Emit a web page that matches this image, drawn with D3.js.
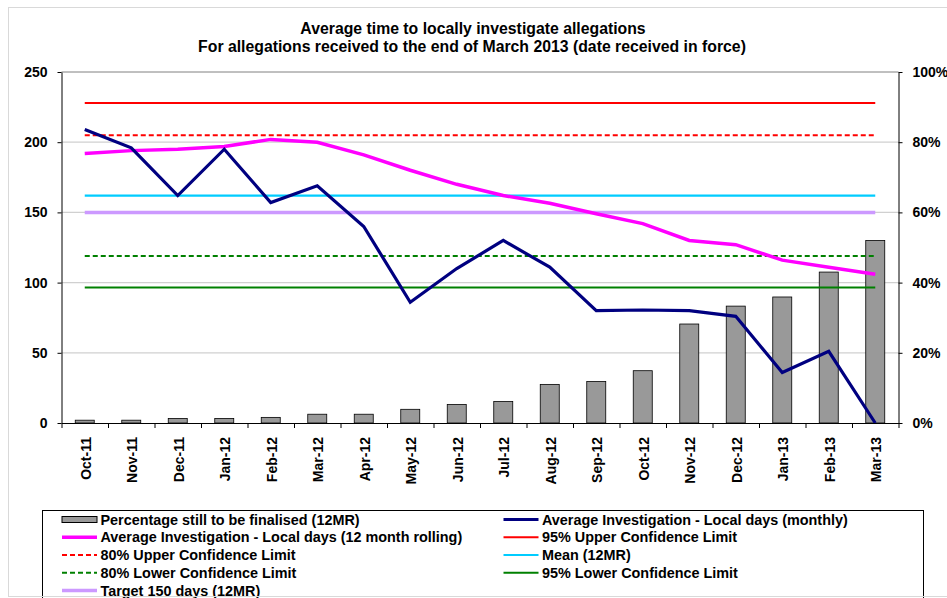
<!DOCTYPE html>
<html>
<head>
<meta charset="utf-8">
<script src="https://cdn.jsdelivr.net/npm/d3@7"></script>
<style>
    body { margin: 0; background: #fff; }
    text { font-family: "Liberation Sans", Arial, sans-serif; font-weight: bold; fill: #000; }
</style>
</head>
<body>
<div id="chart"></div>
<script>

// months on the x axis
var months = ["Oct-11", "Nov-11", "Dec-11", "Jan-12", "Feb-12", "Mar-12", "Apr-12", "May-12", "Jun-12",
    "Jul-12", "Aug-12", "Sep-12", "Oct-12", "Nov-12", "Dec-12", "Jan-13", "Feb-13", "Mar-13"];

// percentage still to be finalised (right axis)
var pctOpen = [0.8, 0.8, 1.3, 1.3, 1.6, 2.5, 2.5, 3.9, 5.3, 6.1, 11.0, 11.8, 14.9, 28.2, 33.3, 35.9, 43.0, 52.0];

// days (left axis)
var avgMonthly = [209, 196, 162, 195, 157, 169, 140, 86, 110, 130, 111, 80, 80.5, 80, 76, 36, 51, 0];
var avgRolling = [192, 194, 195, 197, 202, 200, 191, 180, 170, 162, 156.5, 149, 142, 130, 127, 116, 111, 106];

// flat limits
var ucl95 = 228, ucl80 = 205, meanDays = 162, target = 150, lcl80 = 119, lcl95 = 96.5;

var leftTicks = [0, 50, 100, 150, 200, 250];
var rightTicks = [0, 20, 40, 60, 80, 100];

var W = 947, H = 598;
var plot = { left: 61.5, right: 898.5, top: 72, bottom: 423 };

var svg = d3.select("#chart").append("svg")
    .attr("width", W)
    .attr("height", H);

// outer frame
svg.append("rect")
    .attr("x", 8.5).attr("y", 7.5)
    .attr("width", 1000).attr("height", 589)
    .attr("fill", "#fff")
    .attr("stroke", "#d9d9d9");

// title
svg.append("text").attr("x", 473).attr("y", 34)
    .attr("text-anchor", "middle").style("font-size", "15.8px")
    .text("Average time to locally investigate allegations");
svg.append("text").attr("x", 472).attr("y", 52)
    .attr("text-anchor", "middle").style("font-size", "15.8px")
    .text("For allegations received to the end of March 2013 (date received in force)");

// scales
var x = d3.scaleBand().domain(months).range([plot.left, plot.right]);
var xEdge = d3.scaleLinear().domain([0, months.length]).range([plot.left, plot.right]);
var y = d3.scaleLinear().domain([0, 250]).range([plot.bottom, plot.top]);
var yPct = d3.scaleLinear().domain([0, 100]).range([plot.bottom, plot.top]);
var cx = d => x(d) + x.bandwidth() / 2;

// gridlines
svg.append("g")
    .selectAll("line")
    .data([50, 100, 150, 200])
    .join("line")
    .attr("x1", plot.left).attr("x2", plot.right)
    .attr("y1", d => y(d)).attr("y2", d => y(d))
    .attr("stroke", "#d0d0d0").attr("stroke-width", 1.3);

svg.append("line")
    .attr("x1", plot.left).attr("x2", plot.right)
    .attr("y1", y(250)).attr("y2", y(250))
    .attr("stroke", "#808080");

// bars
var barW = 19;
svg.append("g")
    .selectAll("rect")
    .data(pctOpen)
    .join("rect")
    .attr("x", (d, i) => cx(months[i]) - barW / 2)
    .attr("y", d => yPct(d))
    .attr("width", barW)
    .attr("height", d => plot.bottom - yPct(d))
    .attr("fill", "#999999")
    .attr("stroke", "#000")
    .attr("stroke-width", 0.8);

// flat reference lines
var refLines = [
    { v: ucl95, color: "#ff0000", w: 2, dash: null },
    { v: ucl80, color: "#ff0000", w: 2, dash: "5,3" },
    { v: meanDays, color: "#00ccff", w: 2.2, dash: null },
    { v: target, color: "#cc99ff", w: 3.5, dash: null },
    { v: lcl80, color: "#008000", w: 2, dash: "5,3" },
    { v: lcl95, color: "#008000", w: 2, dash: null }
];
svg.append("g")
    .selectAll("line")
    .data(refLines)
    .join("line")
    .attr("x1", cx(months[0]))
    .attr("x2", cx(months[months.length - 1]))
    .attr("y1", d => y(d.v)).attr("y2", d => y(d.v))
    .attr("stroke", d => d.color)
    .attr("stroke-width", d => d.w)
    .attr("stroke-dasharray", d => d.dash);

var line = d3.line()
    .x((d, i) => cx(months[i]))
    .y(d => y(d));

svg.append("path")
    .attr("d", line(avgRolling))
    .attr("fill", "none")
    .attr("stroke", "#ff00ff")
    .attr("stroke-width", 3.5);

svg.append("path")
    .attr("d", line(avgMonthly))
    .attr("fill", "none")
    .attr("stroke", "#000080")
    .attr("stroke-width", 3.2);

// axes
var axisFont = "14px";

var gl = svg.append("g")
    .attr("transform", "translate(" + plot.left + ",0)")
    .call(d3.axisLeft(y).tickValues(leftTicks).tickSize(4).tickSizeOuter(0).tickPadding(10));
gl.selectAll("text").style("font-size", axisFont).attr("font-family", null);

var gr = svg.append("g")
    .attr("transform", "translate(" + plot.right + ",0)")
    .call(d3.axisRight(yPct).tickValues(rightTicks).tickFormat(d => d + "%").tickSize(4).tickSizeOuter(0).tickPadding(10));
gr.selectAll("text").style("font-size", axisFont).attr("font-family", null);

svg.append("g")
    .attr("transform", "translate(0," + plot.bottom + ")")
    .call(d3.axisBottom(xEdge).ticks(months.length).tickFormat("").tickSize(5).tickSizeOuter(0));

var gb = svg.append("g")
    .attr("transform", "translate(0," + plot.bottom + ")")
    .call(d3.axisBottom(x).tickSize(0).tickSizeOuter(0));
gb.select(".domain").remove();
gb.selectAll("text")
    .attr("font-family", null)
    .style("font-size", axisFont)
    .attr("transform", "rotate(-90)")
    .attr("x", -14)
    .attr("y", 1)
    .attr("dy", "0.35em")
    .style("text-anchor", "end");

svg.selectAll(".domain").attr("stroke", "#000");
svg.selectAll(".tick line").attr("stroke", "#000");

// legend
svg.append("rect")
    .attr("x", 42.5).attr("y", 510.5)
    .attr("width", 881).attr("height", 100)
    .attr("fill", "#fff")
    .attr("stroke", "#000");

var legendItems = [
    { label: "Percentage still to be finalised (12MR)", type: "bar" },
    { label: "Average Investigation - Local days (monthly)", color: "#000080", w: 3.2 },
    { label: "Average Investigation - Local days (12 month rolling)", color: "#ff00ff", w: 3.5 },
    { label: "95% Upper Confidence Limit", color: "#ff0000", w: 2 },
    { label: "80% Upper Confidence Limit", color: "#ff0000", w: 2, dash: "5,3" },
    { label: "Mean (12MR)", color: "#00ccff", w: 2.2 },
    { label: "80% Lower Confidence Limit", color: "#008000", w: 2, dash: "5,3" },
    { label: "95% Lower Confidence Limit", color: "#008000", w: 2 },
    { label: "Target 150 days (12MR)", color: "#cc99ff", w: 3.5 }
];

var colX = [62, 503.5];
var leg = svg.append("g")
    .selectAll("g")
    .data(legendItems)
    .join("g")
    .attr("transform", (d, i) => "translate(" + colX[i % 2] + "," + (519.5 + Math.floor(i / 2) * 17.75) + ")");

leg.filter(d => d.type === "bar")
    .append("rect")
    .attr("x", 0).attr("y", -3)
    .attr("width", 35).attr("height", 6)
    .attr("fill", "#999999").attr("stroke", "#000");

leg.filter(d => d.type !== "bar")
    .append("line")
    .attr("x1", 0).attr("x2", 35)
    .attr("stroke", d => d.color)
    .attr("stroke-width", d => d.w)
    .attr("stroke-dasharray", d => d.dash || null);

leg.append("text")
    .attr("x", 38.5)
    .attr("dy", "0.36em")
    .style("font-size", "14.4px")
    .text(d => d.label);

// outer frame bottom edge over legend
svg.append("line")
    .attr("x1", 8).attr("x2", W)
    .attr("y1", 596.5).attr("y2", 596.5)
    .attr("stroke", "#d9d9d9");

</script>
</body>
</html>
